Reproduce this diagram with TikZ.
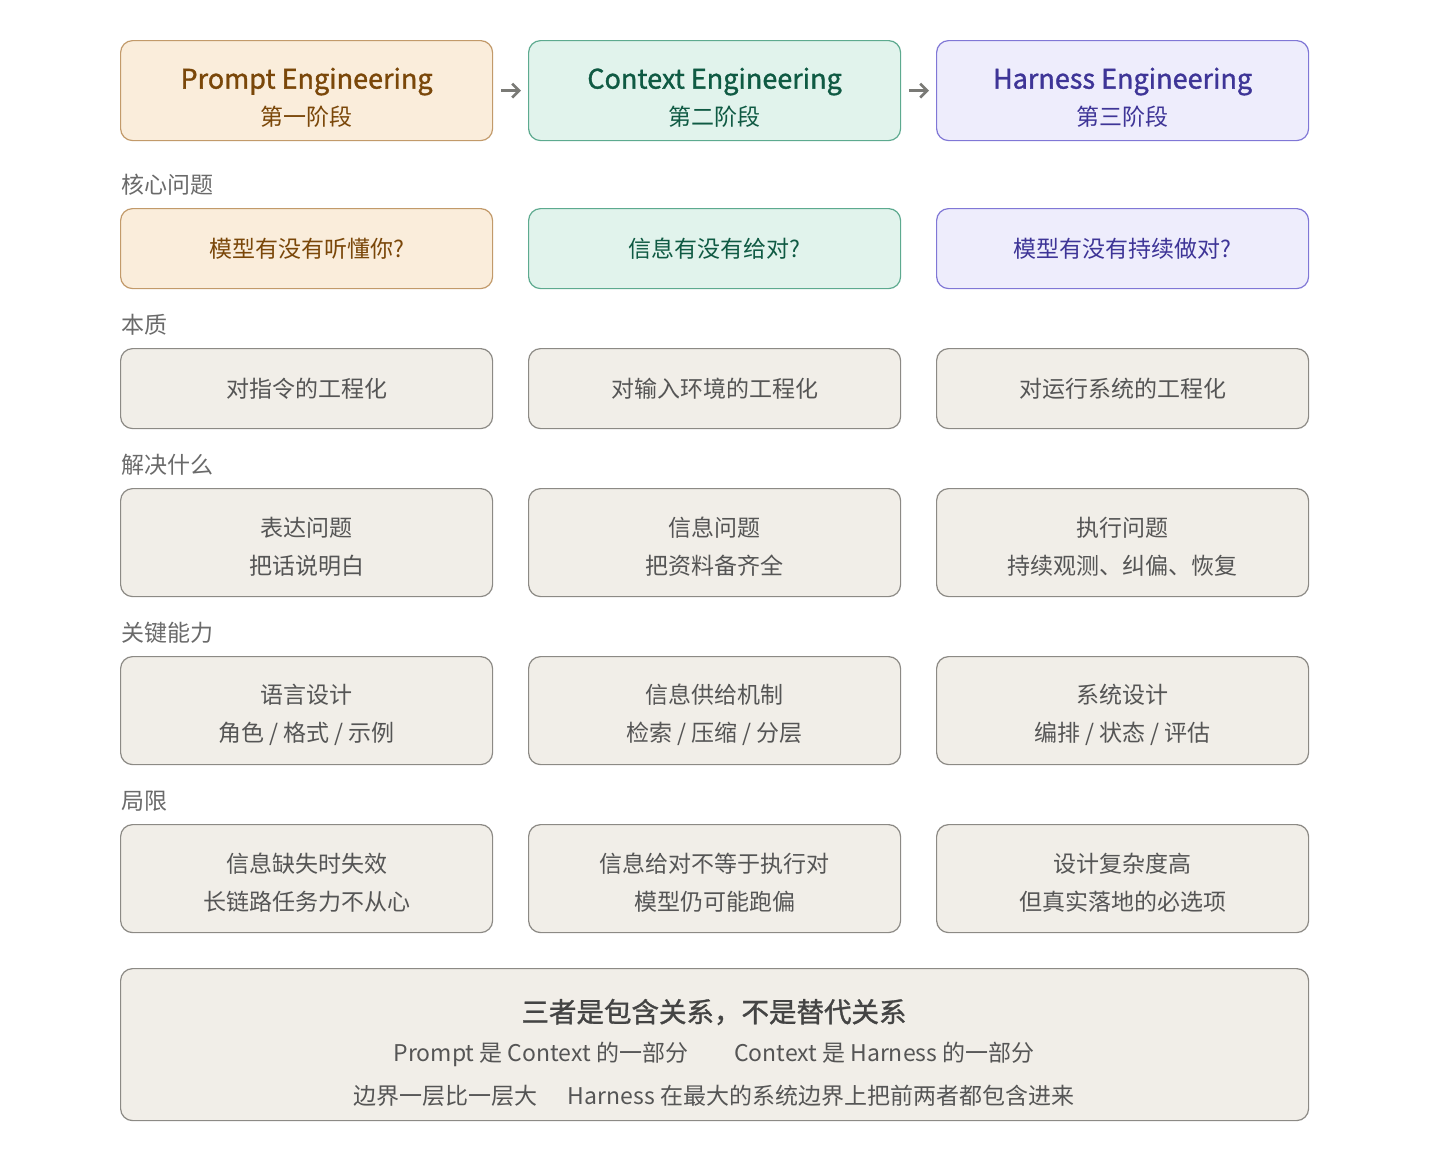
\documentclass[tikz,border=0pt]{standalone}
\usepackage{fontspec}
\setmainfont{Noto Sans CJK SC}
\usetikzlibrary{positioning,arrows.meta}
\definecolor{promptfill}{HTML}{FAEDDB}
\definecolor{promptdraw}{HTML}{C29A6A}
\definecolor{prompttext}{HTML}{7A4709}
\definecolor{contextfill}{HTML}{E1F3EC}
\definecolor{contextdraw}{HTML}{5DAA8F}
\definecolor{contexttext}{HTML}{0F5A43}
\definecolor{harnessfill}{HTML}{EEEDFC}
\definecolor{harnessdraw}{HTML}{8077D6}
\definecolor{harnesstext}{HTML}{3E3597}
\definecolor{cardfill}{HTML}{F1EEE8}
\definecolor{carddraw}{HTML}{8C8A85}
\definecolor{cardtext}{HTML}{555555}
\definecolor{labeltext}{HTML}{6A6A6A}
\definecolor{arrowgray}{HTML}{7A7A76}
\newcommand{\semibold}{\addfontfeature{FakeBold=1.2}}
% push the first line of a card down a little
\newcommand{\lift}[1]{\rule{0pt}{#1}}
\newcommand{\stagetitle}[1]{\lift{35pt}{\semibold\fontsize{27}{27}\selectfont #1}}

\begin{document}
\begin{tikzpicture}[x=1pt, y=-1pt,
    card/.style = {shape=rectangle, rounded corners=12pt, draw=carddraw, fill=cardfill, line width=1.2pt,
        align=center, text=cardtext, minimum width=372pt, inner sep=0pt, anchor=north west,
        font=\fontsize{23}{38}\selectfont},
    tall/.style = {card, minimum height=108pt},
    prompt/.style = {card, draw=promptdraw, fill=promptfill, text=prompttext},
    context/.style = {card, draw=contextdraw, fill=contextfill, text=contexttext},
    harness/.style = {card, draw=harnessdraw, fill=harnessfill, text=harnesstext},
    stage/.style = {minimum height=100pt, font=\fontsize{23}{37}\selectfont},
    rowlabel/.style = {anchor=west, inner sep=0pt, text=labeltext, font=\fontsize{23}{23}\selectfont},
    flow/.style = {draw=arrowgray, line width=2.6pt, -{Straight Barb[length=7pt,width=14pt]}, shorten <=8pt, shorten >=7pt}]
    \useasboundingbox (0,0) rectangle (1440,1160);

    % stages
    \node[prompt, stage] (prompt) at (120,40) {\stagetitle{Prompt Engineering}\\第一阶段};
    \node[context, stage] (context) at (528,40) {\stagetitle{Context Engineering}\\第二阶段};
    \node[harness, stage] (harness) at (936,40) {\stagetitle{Harness Engineering}\\第三阶段};
    \draw[flow] (prompt.east) -- (context.west);
    \draw[flow] (context.east) -- (harness.west);

    % core question
    \node[rowlabel] (lq) at (121,185) {核心问题};
    \node[prompt, minimum height=80pt] (q1) at (120,208) {模型有没有听懂你?};
    \node[context, minimum height=80pt] (q2) at (528,208) {信息有没有给对?};
    \node[harness, minimum height=80pt] (q3) at (936,208) {模型有没有持续做对?};

    % essence
    \node[rowlabel] (le) at (121,325) {本质};
    \node[card, minimum height=80pt] (e1) at (120,348) {对指令的工程化};
    \node[card, minimum height=80pt] (e2) at (528,348) {对输入环境的工程化};
    \node[card, minimum height=80pt] (e3) at (936,348) {对运行系统的工程化};

    % what it solves
    \node[rowlabel] (ls) at (121,465) {解决什么};
    \node[tall] (s1) at (120,488) {\lift{28pt}表达问题\\把话说明白};
    \node[tall] (s2) at (528,488) {\lift{28pt}信息问题\\把资料备齐全};
    \node[tall] (s3) at (936,488) {\lift{28pt}执行问题\\持续观测、纠偏、恢复};

    % key skills
    \node[rowlabel] (lk) at (121,633) {关键能力};
    \node[tall] (k1) at (120,656) {\lift{28pt}语言设计\\角色 / 格式 / 示例};
    \node[tall] (k2) at (528,656) {\lift{28pt}信息供给机制\\检索 / 压缩 / 分层};
    \node[tall] (k3) at (936,656) {\lift{28pt}系统设计\\编排 / 状态 / 评估};

    % limits
    \node[rowlabel] (ll) at (121,801) {局限};
    \node[tall] (l1) at (120,824) {\lift{28pt}信息缺失时失效\\长链路任务力不从心};
    \node[tall] (l2) at (528,824) {\lift{28pt}信息给对不等于执行对\\模型仍可能跑偏};
    \node[tall] (l3) at (936,824) {\lift{28pt}设计复杂度高\\但真实落地的必选项};

    % summary
    \node[card, minimum width=1188pt, minimum height=152pt] (sum) at (120,968) {};
    \node[text=cardtext!80!black, font=\semibold\fontsize{27.5}{27.5}\selectfont] (sum1) at (714,1012) {三者是包含关系，不是替代关系};
    \node[text=cardtext, font=\fontsize{23}{23}\selectfont] (sum2) at (714,1054) {Prompt 是 Context 的一部分\hspace{46pt}Context 是 Harness 的一部分};
    \node[text=cardtext, font=\fontsize{23}{23}\selectfont] (sum3) at (714,1096) {边界一层比一层大\hspace{30pt}Harness 在最大的系统边界上把前两者都包含进来};
\end{tikzpicture}
\end{document}
